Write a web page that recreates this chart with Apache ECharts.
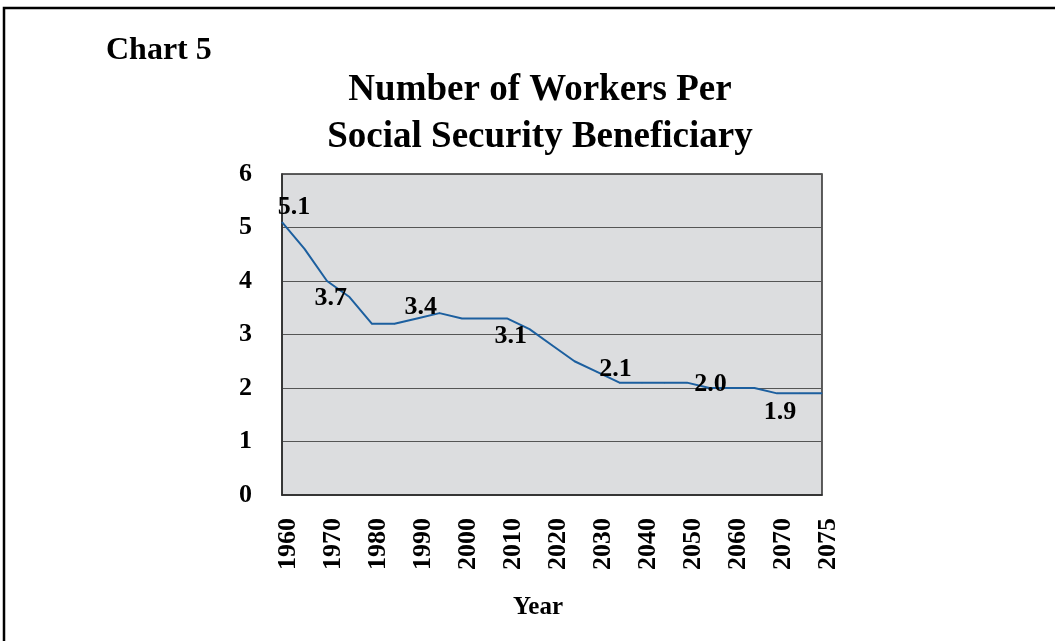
<!DOCTYPE html>
<html>
<head>
<meta charset="utf-8">
<title>Number of Workers Per Social Security Beneficiary</title>
<script src="https://cdn.jsdelivr.net/npm/echarts@6/dist/echarts.min.js"></script>
<style>
  html, body { margin: 0; padding: 0; background: #ffffff; }
  #chart { width: 1055px; height: 641px; }
</style>
</head>
<body>
<div id="chart"></div>
<script>
// Years along the horizontal axis (5-year steps; every other one is labelled)
const years = [
  '1960', '1965', '1970', '1975', '1980', '1985', '1990', '1995',
  '2000', '2005', '2010', '2015', '2020', '2025', '2030', '2035',
  '2040', '2045', '2050', '2055', '2060', '2065', '2070', '2073', '2075'
];

// Workers per beneficiary for each year above
const workersPerBeneficiary = [
  5.1, 4.6, 4.0, 3.7, 3.2, 3.2, 3.3, 3.4,
  3.3, 3.3, 3.3, 3.1, 2.8, 2.5, 2.3, 2.1,
  2.1, 2.1, 2.1, 2.0, 2.0, 2.0, 1.9, 1.9, 1.9
];

// Indices of the points whose value is written on the chart
const labelledPoints = [0, 3, 7, 11, 15, 19, 22];

// Vertical axis ticks
const yTicks = [0, 1, 2, 3, 4, 5, 6];

const SERIF = "'Liberation Serif', 'Times New Roman', serif";
const LINE_BLUE = '#1c5f9f';

// Where each value label sits relative to its point
const labelPlacement = {
  0:  { position: 'top',    offset: [12, 4] },
  3:  { position: 'left',   offset: [3, 1] },
  7:  { position: 'left',   offset: [3, -6] },
  11: { position: 'left',   offset: [3, 7] },
  15: { position: 'top',    offset: [-4, 5] },
  19: { position: 'inside', offset: [1, -4] },
  22: { position: 'bottom', offset: [3, 0] }
};

const seriesData = workersPerBeneficiary.map((v, i) => {
  if (!labelledPoints.includes(i)) return v;
  const p = labelPlacement[i];
  return {
    value: v,
    label: {
      show: true,
      position: p.position,
      offset: p.offset,
      distance: 5,
      formatter: (d) => Number(d.value).toFixed(1),
      color: '#000',
      fontFamily: SERIF,
      fontWeight: 'bold',
      fontSize: 26
    }
  };
});

const chart = echarts.init(document.getElementById('chart'), null, { renderer: 'canvas' });

chart.setOption({
  backgroundColor: '#ffffff',
  animation: false,
  title: [
    {
      text: 'Chart 5',
      left: 101,
      top: 30,
      textStyle: { fontFamily: SERIF, fontWeight: 'bold', fontSize: 32, color: '#000' }
    },
    {
      text: 'Number of Workers Per\nSocial Security Beneficiary',
      left: 535,
      top: 62,
      textAlign: 'center',
      textStyle: {
        fontFamily: SERIF, fontWeight: 'bold', fontSize: 37,
        lineHeight: 47, color: '#000'
      }
    }
  ],
  graphic: [
    {
      // outer frame around the whole exhibit
      type: 'rect',
      shape: { x: 4, y: 8, width: 1200, height: 800 },
      style: { fill: null, stroke: '#000', lineWidth: 2.5 },
      silent: true
    }
  ],
  grid: {
    left: 282,
    right: 233,
    top: 174,
    bottom: 146,
    show: true,
    backgroundColor: '#dcdddf',
    borderColor: '#2b2b2b',
    borderWidth: 1.5
  },
  xAxis: {
    type: 'category',
    data: years,
    boundaryGap: false,
    name: 'Year',
    nameLocation: 'middle',
    nameGap: 113,
    nameTextStyle: {
      fontFamily: SERIF, fontWeight: 'bold', fontSize: 25, color: '#000',
      verticalAlign: 'middle',
      padding: [0, 28, 0, 0]
    },
    axisLine: { show: true, lineStyle: { color: '#2b2b2b', width: 1.5 } },
    axisTick: { show: false },
    splitLine: { show: false },
    axisLabel: {
      interval: (i) => i % 2 === 0,
      rotate: 90,
      margin: 23,
      formatter: (v) => '{yr|' + v + '}',
      rich: {
        yr: {
          fontFamily: SERIF,
          fontWeight: 'bold',
          fontSize: 26,
          color: '#000',
          padding: [12, 0, 0, 0]
        }
      }
    }
  },
  yAxis: {
    type: 'value',
    min: yTicks[0],
    max: yTicks[yTicks.length - 1],
    interval: 1,
    axisLine: { show: true, lineStyle: { color: '#2b2b2b', width: 1.5 } },
    axisTick: { show: false },
    splitLine: { show: true, lineStyle: { color: '#555555', width: 1 } },
    axisLabel: {
      margin: 30,
      fontFamily: SERIF,
      fontWeight: 'bold',
      fontSize: 26,
      color: '#000'
    }
  },
  series: [
    {
      type: 'line',
      data: seriesData,
      symbol: 'circle',
      symbolSize: 1,
      showSymbol: true,
      lineStyle: { color: LINE_BLUE, width: 2 },
      itemStyle: { color: LINE_BLUE },
      z: 3
    }
  ]
});
</script>
</body>
</html>
